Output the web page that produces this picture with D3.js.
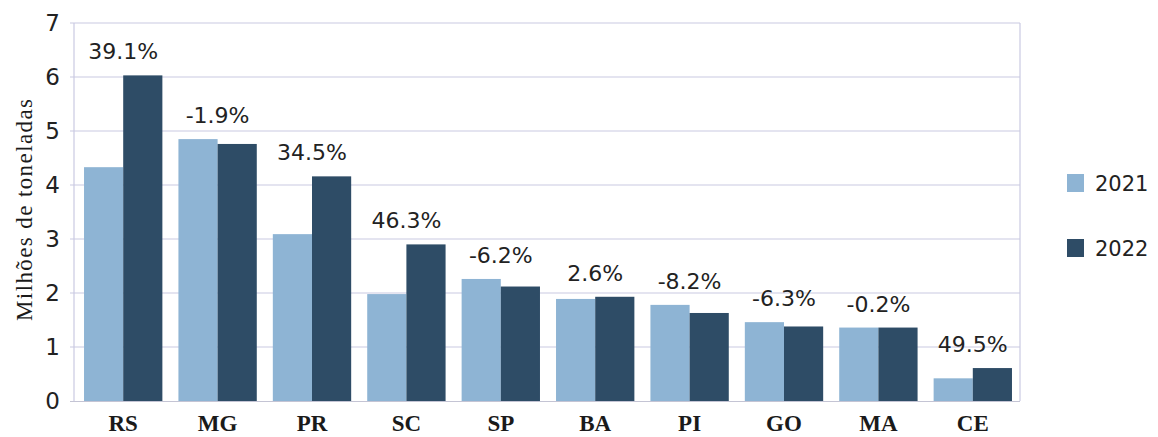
<!DOCTYPE html>
<html>
<head>
<meta charset="utf-8">
<script src="https://cdn.jsdelivr.net/npm/d3@7"></script>
<style>
  html, body { margin: 0; padding: 0; background: #ffffff; }
  svg { display: block; }
</style>
</head>
<body>
<svg id="chart" width="1158" height="437"></svg>
<script>
const categories = ["RS", "MG", "PR", "SC", "SP", "BA", "PI", "GO", "MA", "CE"];
const values2021 = [4.33, 4.85, 3.09, 1.98, 2.26, 1.89, 1.78, 1.46, 1.36, 0.42];
const values2022 = [6.03, 4.76, 4.16, 2.90, 2.12, 1.93, 1.63, 1.38, 1.36, 0.61];
const changeLabels = ["39.1%", "-1.9%", "34.5%", "46.3%", "-6.2%", "2.6%", "-8.2%", "-6.3%", "-0.2%", "49.5%"];
const seriesNames = ["2021", "2022"];
const yTicks = [0, 1, 2, 3, 4, 5, 6, 7];
const yTitle = "Milhões de toneladas";

const colors = ["#8eb4d4", "#2e4c66"];
const svg = d3.select("#chart");

const plotLeft = 74, plotRight = 1020, plotTop = 23, plotBottom = 401;

const x = d3.scaleBand().domain(categories).range([76, plotRight]).paddingInner(0.17).paddingOuter(0.085);
const y = d3.scaleLinear().domain([0, 7]).range([plotBottom, plotTop]);

// gridlines
svg.append("g").selectAll("line").data(yTicks.filter(d => d > 0)).join("line")
  .attr("x1", plotLeft - 4).attr("x2", plotRight)
  .attr("y1", d => y(d)).attr("y2", d => y(d))
  .attr("stroke", "#cacae2").attr("stroke-width", 1.2);

// frame verticals
svg.append("line").attr("x1", plotLeft).attr("x2", plotLeft).attr("y1", plotTop).attr("y2", plotBottom)
  .attr("stroke", "#cacae2").attr("stroke-width", 1.2);
svg.append("line").attr("x1", plotRight).attr("x2", plotRight).attr("y1", plotTop).attr("y2", plotBottom)
  .attr("stroke", "#cacae2").attr("stroke-width", 1.2);

// bars
const sub = d3.scaleBand().domain(seriesNames).range([0, x.bandwidth()]);
const rows = categories.map((c, i) => ({ c, i, vals: [values2021[i], values2022[i]] }));
const groups = svg.append("g").selectAll("g").data(rows).join("g")
  .attr("transform", d => `translate(${x(d.c)},0)`);
groups.selectAll("rect").data(d => d.vals.map((v, k) => ({ v, k }))).join("rect")
  .attr("x", d => sub(seriesNames[d.k]))
  .attr("width", sub.bandwidth())
  .attr("y", d => y(d.v))
  .attr("height", d => y(0) - y(d.v))
  .attr("fill", d => colors[d.k]);

// bottom axis line
svg.append("line").attr("x1", plotLeft - 4).attr("x2", plotRight).attr("y1", plotBottom + 0.5).attr("y2", plotBottom + 0.5)
  .attr("stroke", "#c4c4d4").attr("stroke-width", 1.2);

// percent labels
svg.append("g").selectAll("text").data(rows).join("text")
  .attr("x", d => x(d.c) + x.bandwidth() / 2)
  .attr("y", d => y(Math.max(...d.vals)) - 16)
  .attr("text-anchor", "middle")
  .attr("font-family", "DejaVu Sans, sans-serif")
  .attr("font-size", 22)
  .attr("fill", "#222")
  .text(d => changeLabels[d.i]);

// y tick labels
svg.append("g").selectAll("text").data(yTicks).join("text")
  .attr("x", 60)
  .attr("y", d => y(d))
  .attr("dy", "0.36em")
  .attr("text-anchor", "end")
  .attr("font-family", "DejaVu Sans, sans-serif")
  .attr("font-size", 23)
  .attr("fill", "#222")
  .text(d => d);

// category labels
svg.append("g").selectAll("text").data(categories).join("text")
  .attr("x", d => x(d) + x.bandwidth() / 2)
  .attr("y", 431)
  .attr("text-anchor", "middle")
  .attr("font-family", "Liberation Serif, serif")
  .attr("font-weight", "bold")
  .attr("font-size", 23)
  .attr("fill", "#1a1a1a")
  .text(d => d);

// y title
svg.append("text")
  .attr("transform", "translate(32,210) rotate(-90)")
  .attr("text-anchor", "middle")
  .attr("font-family", "Liberation Serif, serif")
  .attr("font-size", 23)
  .attr("textLength", 222)
  .attr("lengthAdjust", "spacing")
  .attr("fill", "#1a1a1a")
  .text(yTitle);

// legend
const legend = svg.append("g").selectAll("g").data(seriesNames).join("g")
  .attr("transform", (d, i) => `translate(1067,${183 + i * 65})`);
legend.append("rect").attr("x", 0).attr("y", -9).attr("width", 17).attr("height", 18)
  .attr("fill", (d, i) => colors[i]);
legend.append("text").attr("x", 28).attr("y", 0).attr("dy", "0.36em")
  .attr("font-family", "DejaVu Sans, sans-serif").attr("font-size", 21).attr("fill", "#222")
  .text(d => d);
</script>
</body>
</html>
